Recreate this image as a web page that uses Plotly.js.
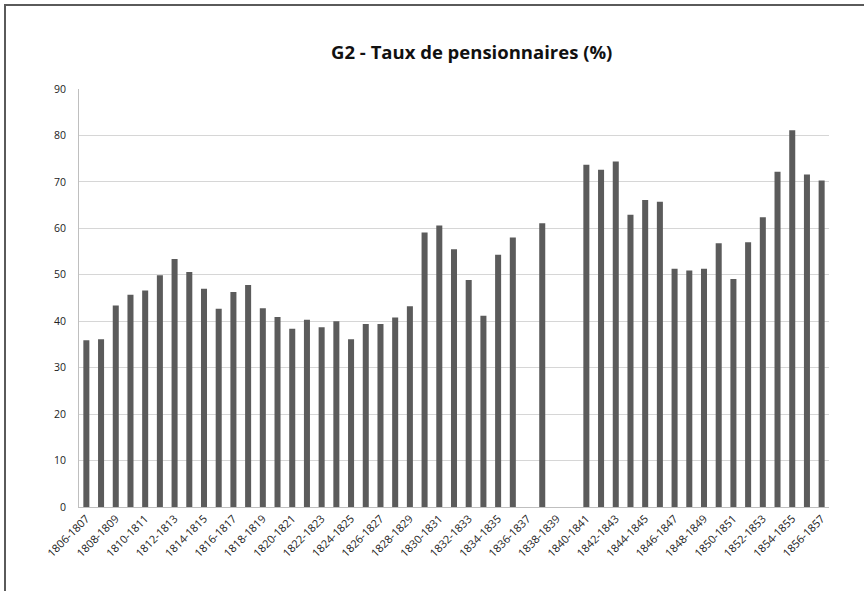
<!DOCTYPE html>
<html>
<head>
<meta charset="utf-8">
<script src="https://cdn.plot.ly/plotly-3.0.1.min.js"></script>
<style>
html,body{margin:0;padding:0;background:#fff;}
#frame{position:absolute;left:4px;top:4px;width:900px;height:700px;border-left:2px solid #5a5a5a;border-top:2px solid #5a5a5a;pointer-events:none;z-index:10;}
#chart{position:absolute;left:0;top:0;width:864px;height:591px;}
</style>
</head>
<body>
<div id="chart"></div>
<div id="frame"></div>
<script>
const categories = ["1806-1807","1807-1808","1808-1809","1809-1810","1810-1811","1811-1812","1812-1813","1813-1814","1814-1815","1815-1816","1816-1817","1817-1818","1818-1819","1819-1820","1820-1821","1821-1822","1822-1823","1823-1824","1824-1825","1825-1826","1826-1827","1827-1828","1828-1829","1829-1830","1830-1831","1831-1832","1832-1833","1833-1834","1834-1835","1835-1836","1836-1837","1837-1838","1838-1839","1839-1840","1840-1841","1841-1842","1842-1843","1843-1844","1844-1845","1845-1846","1846-1847","1847-1848","1848-1849","1849-1850","1850-1851","1851-1852","1852-1853","1853-1854","1854-1855","1855-1856","1856-1857"];
const taux = [35.9,36.1,43.4,45.7,46.6,49.9,53.4,50.6,47.0,42.7,46.3,47.8,42.8,40.9,38.4,40.3,38.7,40.0,36.1,39.4,39.4,40.8,43.2,59.1,60.6,55.5,48.9,41.2,54.3,58.0,null,61.1,null,null,73.7,72.6,74.4,62.9,66.1,65.7,51.3,50.9,51.3,56.8,49.1,57.0,62.4,72.2,81.1,71.6,70.3];
const tickLabels = categories.filter((c, i) => i % 2 === 0);
const yTicks = [0,10,20,30,40,50,60,70,80,90];

const trace = {
  type: 'bar',
  x: categories,
  y: taux,
  marker: {color: '#5b5b5b', line: {width: 0}},
  hoverinfo: 'x+y'
};

const layout = {
  width: 864, height: 591,
  margin: {l: 79, r: 35, t: 89, b: 84},
  paper_bgcolor: '#fff', plot_bgcolor: '#fff',
  bargap: 0.59,
  showlegend: false,
  title: {
    text: '<b>G2 - Taux de pensionnaires (%)</b>',
    font: {family: 'Open Sans, Liberation Sans, sans-serif', size: 18.5, color: '#111'},
    x: 0.546, xref: 'container', xanchor: 'center',
    y: 1, yref: 'container', yanchor: 'top', pad: {t: 46}
  },
  xaxis: {
    type: 'category',
    tickmode: 'array',
    tickvals: tickLabels,
    ticktext: tickLabels,
    tickangle: -45,
    tickfont: {family: 'Open Sans, Liberation Sans, sans-serif', size: 11, color: '#222'},
    showgrid: false,
    showline: true, linecolor: '#bfbfbf', linewidth: 1,
    ticks: '',
    ticklen: 0,
    fixedrange: true
  },
  yaxis: {
    range: [0, 90],
    tickmode: 'array',
    tickvals: yTicks,
    tickfont: {family: 'Open Sans, Liberation Sans, sans-serif', size: 10.5, color: '#222'},
    showgrid: true, gridcolor: '#d6d6d6', gridwidth: 1,
    showline: true, linecolor: '#bfbfbf', linewidth: 1,
    zeroline: false,
    ticks: '', ticklabelstandoff: 10,
    fixedrange: true
  }
};

Plotly.newPlot('chart', [trace], layout, {displayModeBar: false, staticPlot: true});
</script>
</body>
</html>
